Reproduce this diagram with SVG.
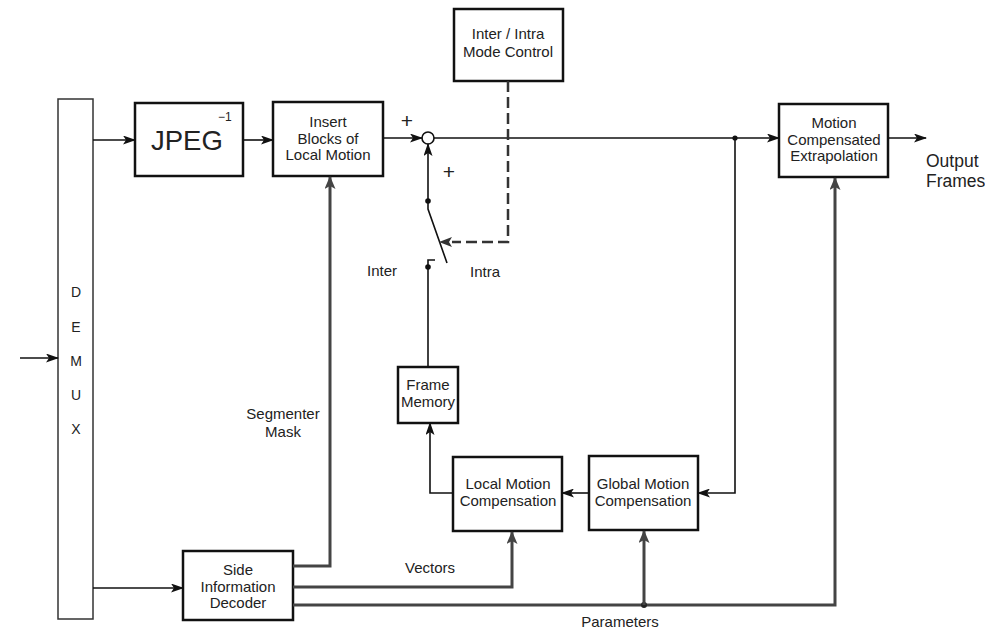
<svg xmlns="http://www.w3.org/2000/svg" width="985" height="630" viewBox="0 0 985 630">
<defs>
<marker id="arr" markerWidth="13" markerHeight="9" refX="12" refY="4.5" orient="auto" markerUnits="userSpaceOnUse">
<path d="M0,0 L13,4.5 L0,9 L3,4.5 z" fill="#111"/>
</marker>
<marker id="bus" markerWidth="13" markerHeight="11" refX="12" refY="5.5" orient="auto" markerUnits="userSpaceOnUse">
<path d="M0,0 L13,5.5 L0,11 L3,5.5 z" fill="#444"/>
</marker>
<style>
.box{fill:#fff;stroke:#111;stroke-width:2.5}
.t{font-family:"Liberation Sans",Arial,sans-serif;font-size:15px;fill:#222;text-anchor:middle}
.lbl{font-family:"Liberation Sans",Arial,sans-serif;font-size:15px;fill:#222}
.plus{font-family:"Liberation Sans",Arial,sans-serif;font-size:21px;fill:#222;text-anchor:middle}
.ln{fill:none;stroke:#111;stroke-width:1.6}
.bs{fill:none;stroke:#444;stroke-width:3}
.ds{fill:none;stroke:#333;stroke-width:2.5;stroke-dasharray:11 5}
</style>
</defs>
<rect width="985" height="630" fill="#fff"/>

<g id="demux">
<rect x="58" y="99" width="35" height="520" fill="#fff" stroke="#333" stroke-width="1.5"/>
<text class="t" style="font-size:14px" x="76" y="297">D</text>
<text class="t" style="font-size:14px" x="76" y="332">E</text>
<text class="t" style="font-size:14px" x="76" y="366">M</text>
<text class="t" style="font-size:14px" x="76" y="400">U</text>
<text class="t" style="font-size:14px" x="76" y="434">X</text>
</g>

<g id="jpeg">
<rect class="box" x="135" y="103" width="108" height="73"/>
<text x="151" y="150" font-family="Liberation Sans,Arial,sans-serif" font-size="27.5" fill="#222">JPEG</text>
<text x="218" y="121" font-family="Liberation Sans,Arial,sans-serif" font-size="12" fill="#222">−1</text>
</g>

<g id="insert">
<rect class="box" x="273" y="102" width="110" height="74"/>
<text class="t" x="328" y="127">Insert</text>
<text class="t" x="328" y="144">Blocks of</text>
<text class="t" x="328" y="160">Local Motion</text>
</g>

<g id="modectl">
<rect class="box" x="454" y="9" width="109" height="72"/>
<text class="t" x="508" y="39">Inter / Intra</text>
<text class="t" x="508" y="57">Mode Control</text>
</g>

<g id="sum">
<circle cx="428" cy="138" r="6" fill="#fff" stroke="#111" stroke-width="1.6"/>
<text class="plus" x="407" y="128">+</text>
<text class="plus" x="449" y="179">+</text>
</g>

<g id="switch">
<circle cx="428" cy="201" r="2.8" fill="#111"/>
<circle cx="428" cy="267" r="2.8" fill="#111"/>
<path class="ln" d="M428,201 L428,209 L447,263"/>
<path class="ln" d="M428,267 L428,260 L435,260"/>
<text class="lbl" x="367" y="276">Inter</text>
<text class="lbl" x="470" y="277">Intra</text>
</g>

<g id="mce">
<rect class="box" x="779" y="104" width="109" height="73"/>
<text class="t" x="834" y="128">Motion</text>
<text class="t" x="834" y="145">Compensated</text>
<text class="t" x="834" y="161">Extrapolation</text>
</g>

<g id="output">
<text class="lbl" style="font-size:17.5px" x="926" y="167">Output</text>
<text class="lbl" style="font-size:17.5px" x="926" y="187">Frames</text>
</g>

<g id="framemem">
<rect class="box" x="398" y="367" width="60" height="56"/>
<text class="t" x="428" y="390">Frame</text>
<text class="t" x="428" y="407">Memory</text>
</g>

<g id="localmc">
<rect class="box" x="453" y="457" width="109" height="74"/>
<text class="t" x="508" y="489">Local Motion</text>
<text class="t" x="508" y="506">Compensation</text>
</g>

<g id="globalmc">
<rect class="box" x="589" y="456" width="109" height="74"/>
<text class="t" x="643" y="489">Global Motion</text>
<text class="t" x="643" y="506">Compensation</text>
</g>

<g id="sideinfo">
<rect class="box" x="183" y="551" width="110" height="69"/>
<text class="t" x="238" y="575">Side</text>
<text class="t" x="238" y="592">Information</text>
<text class="t" x="238" y="608">Decoder</text>
</g>

<g id="labels">
<text class="t" x="283" y="419">Segmenter</text>
<text class="t" x="283" y="437">Mask</text>
<text class="t" x="430" y="573">Vectors</text>
<text class="t" x="620" y="627">Parameters</text>
</g>

<g id="connectors">
<line class="ln" x1="20" y1="358" x2="58" y2="358" marker-end="url(#arr)"/>
<line class="ln" x1="93" y1="140" x2="135" y2="140" marker-end="url(#arr)"/>
<line class="ln" x1="243" y1="140" x2="273" y2="140" marker-end="url(#arr)"/>
<line class="ln" x1="383" y1="138" x2="422" y2="138" marker-end="url(#arr)"/>
<line class="ln" x1="434" y1="138" x2="779" y2="138" marker-end="url(#arr)"/>
<line class="ln" x1="888" y1="138" x2="926" y2="138" marker-end="url(#arr)"/>
<line class="ln" x1="428" y1="201" x2="428" y2="144" marker-end="url(#arr)"/>
<path class="ds" d="M508,81 L508,242 L452,242"/>
<path d="M452,237 L439,242 L452,247 L449,242 z" fill="#333"/>
<line class="ln" x1="428" y1="267" x2="428" y2="367"/>
<path class="ln" d="M453,493 L430,493 L430,423" marker-end="url(#arr)"/>
<line class="ln" x1="589" y1="493" x2="562" y2="493" marker-end="url(#arr)"/>
<circle cx="735" cy="138" r="2.6" fill="#111"/>
<path class="ln" d="M735,138 L735,493 L698,493" marker-end="url(#arr)"/>
<line class="ln" x1="93" y1="588" x2="183" y2="588" marker-end="url(#arr)"/>
<path class="bs" d="M293,566 L330,566 L330,177" marker-end="url(#bus)"/>
<path class="bs" d="M293,587 L512,587 L512,532" marker-end="url(#bus)"/>
<path class="bs" d="M293,605 L835,605 L835,178" marker-end="url(#bus)"/>
<circle cx="644" cy="605" r="3" fill="#222"/>
<path class="bs" d="M644,605 L644,531" marker-end="url(#bus)"/>
</g>
</svg>
